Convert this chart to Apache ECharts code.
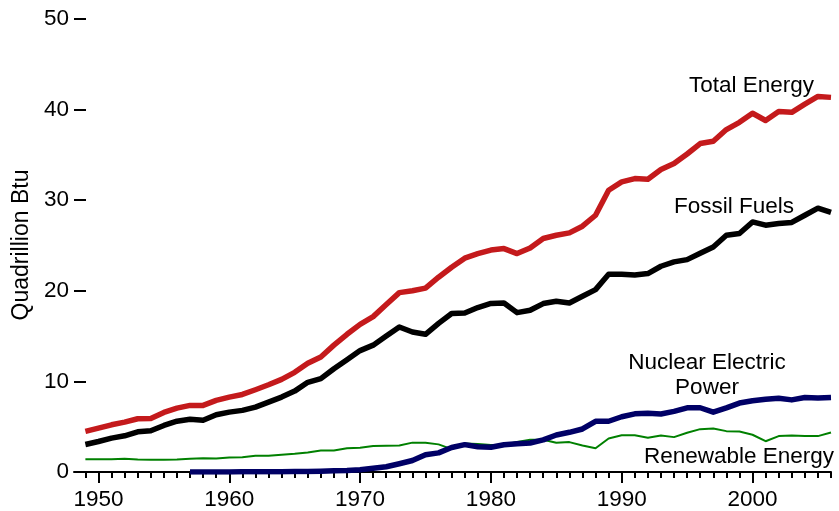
<!DOCTYPE html>
<html>
<head>
<meta charset="utf-8">
<script src="https://cdn.jsdelivr.net/npm/echarts@6/dist/echarts.min.js"></script>
<style>
html,body{margin:0;padding:0;background:#fff;}
#chart{width:839px;height:511px;}
</style>
</head>
<body>
<div id="chart"></div>
<script>
var years = [1949,1950,1951,1952,1953,1954,1955,1956,1957,1958,1959,1960,1961,1962,1963,1964,1965,1966,1967,1968,1969,1970,1971,1972,1973,1974,1975,1976,1977,1978,1979,1980,1981,1982,1983,1984,1985,1986,1987,1988,1989,1990,1991,1992,1993,1994,1995,1996,1997,1998,1999,2000,2001,2002,2003,2004,2005,2006];

var totalEnergy = [4.48,4.84,5.21,5.50,5.88,5.91,6.57,7.05,7.35,7.35,7.90,8.27,8.56,9.08,9.63,10.22,11.0,
  12.0,12.7,14.0,15.2,16.3,17.15,18.5,19.8,20.0,20.3,21.5,22.6,23.6,24.1,24.5,
  24.66,24.11,24.73,25.77,26.13,26.39,27.13,28.34,31.10,32.02,32.39,32.32,33.39,34.05,35.1,36.25,
  36.5,37.8,38.6,39.6,38.8,39.8,39.7,40.6,41.45,41.35];

var fossilFuels = [3.04,3.37,3.74,4.0,4.44,4.55,5.14,5.61,5.83,5.72,6.32,6.61,6.80,7.16,7.71,8.27,8.93,
  9.9,10.3,11.4,12.4,13.4,14.0,15.0,16.0,15.45,15.2,16.4,17.5,17.55,18.15,18.6,
  18.66,17.59,17.85,18.59,18.84,18.66,19.39,20.13,21.82,21.82,21.75,21.9,22.71,23.19,23.44,24.15,
  24.84,26.13,26.32,27.6,27.24,27.42,27.55,28.34,29.12,28.65];

var nuclear = [null,null,null,null,null,null,null,null,0.0,0.002,0.002,0.006,0.02,0.026,0.038,0.04,0.043,
  0.064,0.088,0.142,0.154,0.24,0.41,0.58,0.91,1.27,1.90,2.11,2.70,3.02,2.78,2.74,
  3.01,3.13,3.20,3.55,4.08,4.38,4.75,5.59,5.60,6.10,6.42,6.48,6.41,6.69,7.08,7.09,
  6.60,7.07,7.61,7.86,8.03,8.14,7.96,8.22,8.16,8.21];

var renewable = [1.42,1.42,1.42,1.46,1.38,1.34,1.34,1.38,1.46,1.53,1.49,1.60,1.64,1.79,1.79,1.90,2.01,
  2.15,2.38,2.38,2.62,2.67,2.86,2.90,2.93,3.24,3.24,3.05,2.52,3.15,3.10,2.97,
  3.0,3.3,3.55,3.55,3.22,3.30,2.93,2.62,3.70,4.05,4.05,3.78,4.03,3.85,4.33,4.73,
  4.81,4.51,4.48,4.11,3.40,3.96,4.03,3.96,3.96,4.36];

var majorTicks = [1950,1960,1970,1980,1990,2000];

function pairs(vals){ return years.map(function(y,i){ return [y, vals[i]]; }); }

var FONT = '"Liberation Sans", Arial, sans-serif';
var LBL = '22.5px ' + FONT;
var chart = echarts.init(document.getElementById('chart'), null, {renderer:'canvas'});
chart.setOption({
  animation:false,
  backgroundColor:'#ffffff',
  grid:{left:74,right:8,top:19,bottom:39,containLabel:false},
  xAxis:[{
    type:'value', min:1948.13, max:2006,
    axisLine:{show:true,lineStyle:{color:'#000',width:2}},
    axisTick:{show:true,length:11,lineStyle:{color:'#000',width:2},customValues:majorTicks},
    axisLabel:{show:true,margin:16,fontSize:22.5,color:'#000',fontFamily:FONT,customValues:majorTicks,
      formatter:function(v){ return String(Math.round(v)); }},
    splitLine:{show:false}
  },{
    type:'value', min:1948.13, max:2006, position:'bottom', offset:0,
    axisLine:{show:false},
    axisTick:{show:true,length:6,lineStyle:{color:'#000',width:2},customValues:years},
    axisLabel:{show:false},
    splitLine:{show:false}
  }],
  yAxis:{
    type:'value', min:0, max:50, interval:10,
    axisLine:{show:false},
    axisTick:{show:true,inside:true,length:12,lineStyle:{color:'#000',width:2}},
    axisLabel:{margin:5,fontSize:22.5,color:'#000',fontFamily:FONT},
    splitLine:{show:false}
  },
  series:[
    {name:'Renewable Energy',type:'line',data:pairs(renewable),symbol:'none',
      lineStyle:{color:'#008000',width:2},itemStyle:{color:'#008000'},z:2},
    {name:'Nuclear Electric Power',type:'line',data:pairs(nuclear),symbol:'none',connectNulls:false,
      lineStyle:{color:'#000066',width:5.5,join:'round'},itemStyle:{color:'#000066'},z:3},
    {name:'Fossil Fuels',type:'line',data:pairs(fossilFuels),symbol:'none',
      lineStyle:{color:'#000000',width:5.5,join:'round'},itemStyle:{color:'#000'},z:4},
    {name:'Total Energy',type:'line',data:pairs(totalEnergy),symbol:'none',
      lineStyle:{color:'#c41a1c',width:5.5,join:'round'},itemStyle:{color:'#c41a1c'},z:5}
  ],
  graphic:[
    {type:'text',x:22,y:245,rotation:Math.PI/2,style:{text:'Quadrillion Btu',font:'23px '+FONT,fill:'#000',align:'center',verticalAlign:'middle'}},
    {type:'text',x:814,y:86,style:{text:'Total Energy',font:LBL,fill:'#000',align:'right',verticalAlign:'middle'}},
    {type:'text',x:794,y:207,style:{text:'Fossil Fuels',font:LBL,fill:'#000',align:'right',verticalAlign:'middle'}},
    {type:'text',x:707,y:363,style:{text:'Nuclear Electric',font:LBL,fill:'#000',align:'center',verticalAlign:'middle'}},
    {type:'text',x:707,y:388,style:{text:'Power',font:LBL,fill:'#000',align:'center',verticalAlign:'middle'}},
    {type:'text',x:834,y:457,style:{text:'Renewable Energy',font:LBL,fill:'#000',align:'right',verticalAlign:'middle'}}
  ]
});
</script>
</body>
</html>
